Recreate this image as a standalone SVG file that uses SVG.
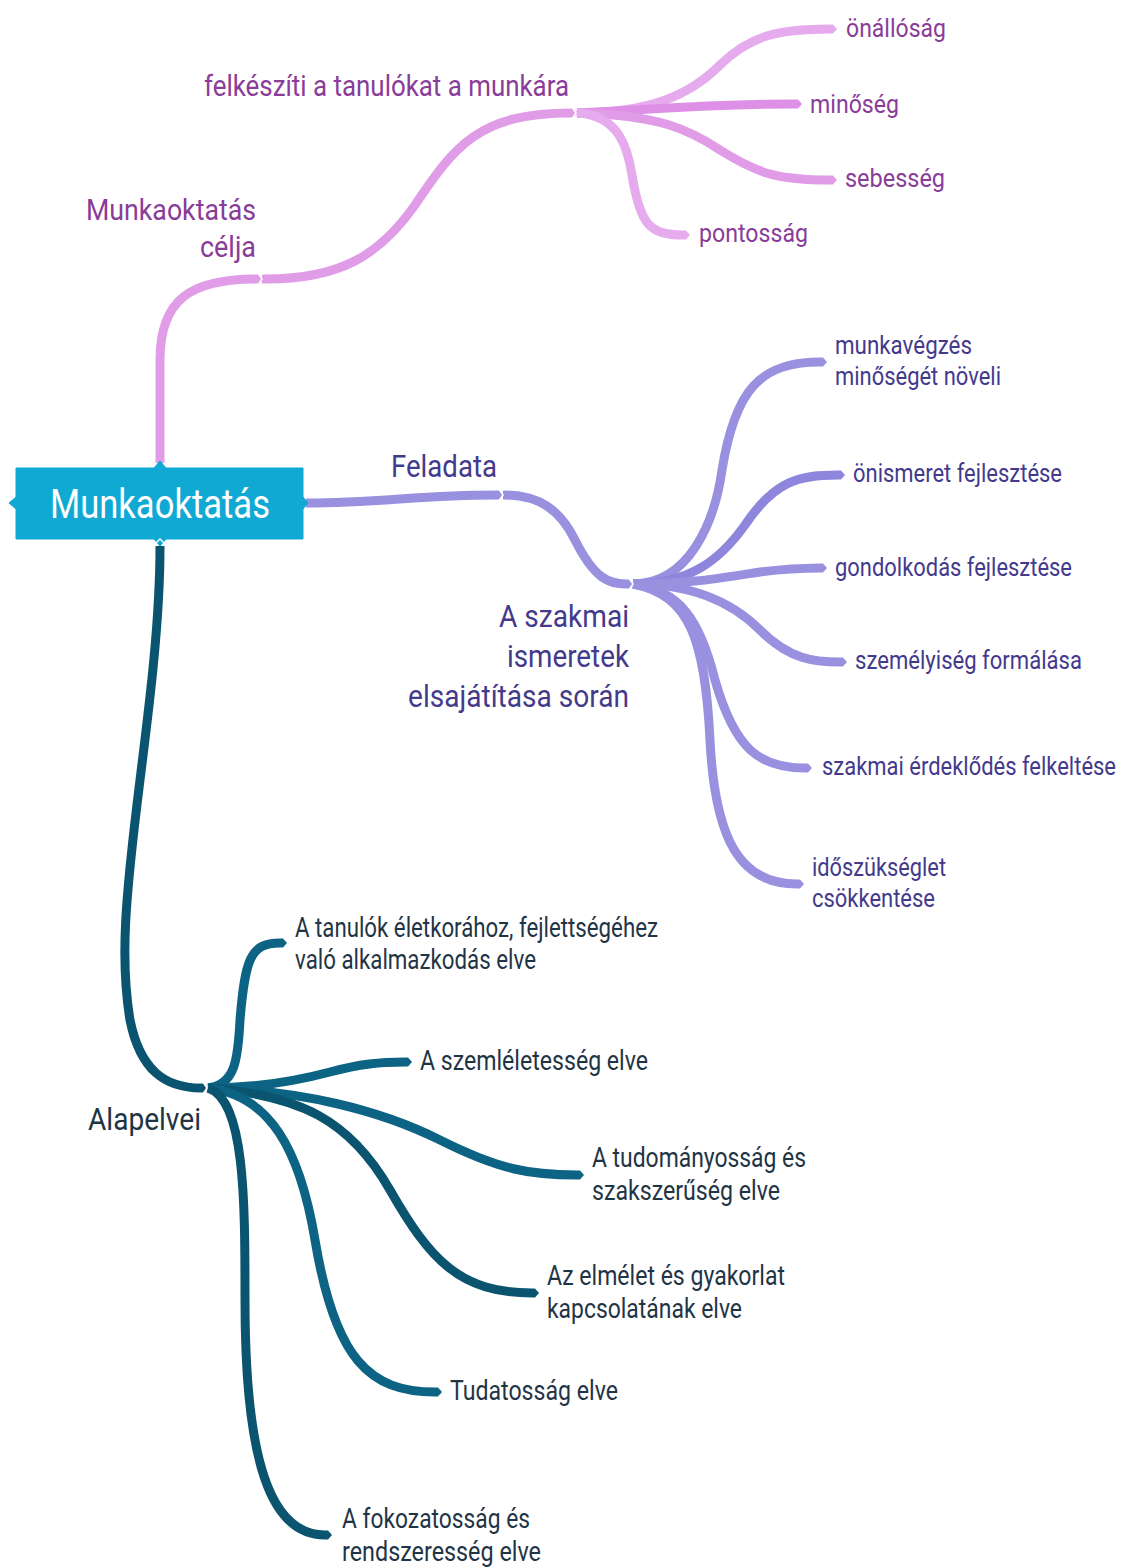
<svg xmlns="http://www.w3.org/2000/svg" width="1123" height="1568" viewBox="0 0 1123 1568">
  <style>
    .t { font-family: Roboto, "Liberation Sans", sans-serif; }
    .lbl-top { fill: #8a3c99; font-size: 30px; }
    .leaf-top { fill: #8a3c99; font-size: 26px; }
    .lbl-mid { fill: #433a8c; font-size: 31px; }
    .leaf-mid { fill: #433a8c; font-size: 25px; }
    .lbl-bot { fill: #1f3445; font-size: 31px; }
    .leaf-bot { fill: #1f3445; font-size: 27px; }
    .br { fill: none; stroke-linecap: butt; stroke-width: 9; }
    .pk { stroke: #e19ce8; }
    .pk2 { stroke: #e6abed; }
    .pk3 { stroke: #de90e6; }
    .vi { stroke: #9a90e0; }
    .vi2 { stroke: #8e85dd; }
    .te { stroke: #0c6383; }
    .te2 { stroke: #0b5470; }
    .notch { fill: none; stroke: #ffffff; stroke-width: 1.6; }
  </style>
  <defs>
    <marker id="tip-pk" markerUnits="userSpaceOnUse" markerWidth="12" markerHeight="12" refX="0" refY="6" orient="auto" viewBox="0 0 12 12">
      <path d="M0,1.5 L3,1.5 L7,6 L3,10.5 L0,10.5 Z" fill="#e19ce8"/>
    </marker>
    <marker id="tip-pk2" markerUnits="userSpaceOnUse" markerWidth="12" markerHeight="12" refX="0" refY="6" orient="auto" viewBox="0 0 12 12">
      <path d="M0,1.5 L3,1.5 L7,6 L3,10.5 L0,10.5 Z" fill="#e6abed"/>
    </marker>
    <marker id="tip-pk3" markerUnits="userSpaceOnUse" markerWidth="12" markerHeight="12" refX="0" refY="6" orient="auto" viewBox="0 0 12 12">
      <path d="M0,1.5 L3,1.5 L7,6 L3,10.5 L0,10.5 Z" fill="#de90e6"/>
    </marker>
    <marker id="tip-vi" markerUnits="userSpaceOnUse" markerWidth="12" markerHeight="12" refX="0" refY="6" orient="auto" viewBox="0 0 12 12">
      <path d="M0,1.5 L3,1.5 L7,6 L3,10.5 L0,10.5 Z" fill="#9a90e0"/>
    </marker>
    <marker id="tip-vi2" markerUnits="userSpaceOnUse" markerWidth="12" markerHeight="12" refX="0" refY="6" orient="auto" viewBox="0 0 12 12">
      <path d="M0,1.5 L3,1.5 L7,6 L3,10.5 L0,10.5 Z" fill="#8e85dd"/>
    </marker>
    <marker id="tip-te" markerUnits="userSpaceOnUse" markerWidth="12" markerHeight="12" refX="0" refY="6" orient="auto" viewBox="0 0 12 12">
      <path d="M0,1.5 L3,1.5 L7,6 L3,10.5 L0,10.5 Z" fill="#0c6383"/>
    </marker>
    <marker id="tip-te2" markerUnits="userSpaceOnUse" markerWidth="12" markerHeight="12" refX="0" refY="6" orient="auto" viewBox="0 0 12 12">
      <path d="M0,1.5 L3,1.5 L7,6 L3,10.5 L0,10.5 Z" fill="#0b5470"/>
    </marker>
  </defs>

  <rect width="1123" height="1568" fill="#ffffff"/>

  <!-- connectors -->
  <g id="connectors">
    <!-- goal branch -->
    <path class="br pk" d="M160,463 L160,360 C160,300 190,279 256,279" marker-end="url(#tip-pk)"/>
    <path class="br pk" d="M262,279 C340,280 380,255 415,205 C455,145 480,113 571,113" marker-end="url(#tip-pk)"/>
    <path class="br pk2" d="M577,113 C650,113 690,95 720,65 C750,35 780,29 830,29" marker-end="url(#tip-pk2)"/>
    <path class="br pk3" d="M577,113 C650,110 700,104 795,104" marker-end="url(#tip-pk3)"/>
    <path class="br pk" d="M577,113 C660,115 690,130 720,150 C760,175 780,180 830,180" marker-end="url(#tip-pk)"/>
    <path class="br pk2" d="M577,113 C620,115 628,150 632,175 C640,225 650,235 683,235" marker-end="url(#tip-pk2)"/>

    <!-- task branch -->
    <path class="br vi" d="M306,503 C380,503 420,495 496,495" marker-end="url(#tip-vi)"/>
    <path class="br vi" d="M503,495 C540,495 560,510 575,540 C595,580 610,584 626,584" marker-end="url(#tip-vi)"/>
    <path class="br vi" d="M633,584 C690,584 715,520 722,470 C735,390 760,362 820,362" marker-end="url(#tip-vi)"/>
    <path class="br vi2" d="M633,584 C690,584 720,560 745,525 C775,480 800,475 838,475" marker-end="url(#tip-vi2)"/>
    <path class="br vi" d="M633,584 C690,584 720,578 760,572 C790,568 805,568 820,568" marker-end="url(#tip-vi)"/>
    <path class="br vi" d="M633,584 C690,584 730,600 760,630 C790,660 815,662 840,662" marker-end="url(#tip-vi)"/>
    <path class="br vi" d="M633,584 C680,590 700,620 715,680 C735,750 760,768 805,768" marker-end="url(#tip-vi)"/>
    <path class="br vi" d="M633,584 C690,595 705,640 710,740 C715,840 740,884 797,884" marker-end="url(#tip-vi)"/>

    <!-- principles branch -->
    <path class="br te2" d="M160,546 C160,620 150,700 140,780 C125,900 120,960 130,1020 C140,1070 165,1088 201,1088" marker-end="url(#tip-te2)"/>
    <path class="br te" d="M208,1088 C235,1085 238,1060 240,1020 C245,960 250,943 280,943" marker-end="url(#tip-te)"/>
    <path class="br te" d="M208,1088 C260,1088 300,1080 330,1072 C360,1064 380,1062 405,1062" marker-end="url(#tip-te)"/>
    <path class="br te" d="M208,1088 C300,1090 380,1110 440,1140 C500,1170 530,1175 577,1175" marker-end="url(#tip-te)"/>
    <path class="br te2" d="M208,1088 C300,1095 350,1120 390,1190 C430,1260 460,1293 532,1293" marker-end="url(#tip-te2)"/>
    <path class="br te" d="M208,1088 C270,1095 300,1150 315,1240 C335,1360 370,1392 435,1392" marker-end="url(#tip-te)"/>
    <path class="br te2" d="M208,1088 C245,1100 245,1200 245,1300 C245,1460 270,1535 325,1535" marker-end="url(#tip-te2)"/>

    <!-- junction notches -->
    <polyline class="notch" points="258,273 262,279 258,285"/>
    <polyline class="notch" points="572,107 576,113 572,119"/>
    <polyline class="notch" points="499,489 503,495 499,501"/>
    <polyline class="notch" points="629,578 633,584 629,590"/>
    <polyline class="notch" points="203,1082 207,1088 203,1094"/>
  </g>

  <!-- central topic -->
  <g id="node-center">
    <path d="M16,468 L154,468 L160,461 L166,468 L303,468 L303,497 L308,503 L303,509 L303,539 L166,539 L160,546 L154,539 L16,539 L16,509 L9,503 L16,497 Z" fill="#10a9d4" stroke="#10a9d4" stroke-width="1" stroke-linejoin="round"/>
    <polyline points="155,544 160,539 165,544" fill="none" stroke="#ffffff" stroke-width="1.4"/>
    <text class="t" x="160" y="518" font-size="41" fill="#ffffff" text-anchor="middle" textLength="220" lengthAdjust="spacingAndGlyphs">Munkaoktatás</text>
  </g>

  <!-- goal branch nodes -->
  <g id="node-celja">
    <text class="t lbl-top" x="86" y="220" textLength="170" lengthAdjust="spacingAndGlyphs">Munkaoktatás</text>
    <text class="t lbl-top" x="200" y="257" textLength="56" lengthAdjust="spacingAndGlyphs">célja</text>
  </g>
  <g id="node-felkesziti">
    <text class="t lbl-top" font-size="28" x="204" y="96" textLength="365" lengthAdjust="spacingAndGlyphs">felkészíti a tanulókat a munkára</text>
  </g>
  <g id="node-onallosag">
    <text class="t leaf-top" x="846" y="37" textLength="100" lengthAdjust="spacingAndGlyphs">önállóság</text>
  </g>
  <g id="node-minoseg">
    <text class="t leaf-top" x="810" y="113" textLength="89" lengthAdjust="spacingAndGlyphs">minőség</text>
  </g>
  <g id="node-sebesseg">
    <text class="t leaf-top" x="845" y="187" textLength="100" lengthAdjust="spacingAndGlyphs">sebesség</text>
  </g>
  <g id="node-pontossag">
    <text class="t leaf-top" x="699" y="242" textLength="109" lengthAdjust="spacingAndGlyphs">pontosság</text>
  </g>

  <!-- task branch nodes -->
  <g id="node-feladata">
    <text class="t lbl-mid" x="391" y="477" textLength="106" lengthAdjust="spacingAndGlyphs">Feladata</text>
  </g>
  <g id="node-szakmai-ismeretek">
    <text class="t lbl-mid" x="499" y="627" textLength="130" lengthAdjust="spacingAndGlyphs">A szakmai</text>
    <text class="t lbl-mid" x="507" y="667" textLength="122" lengthAdjust="spacingAndGlyphs">ismeretek</text>
    <text class="t lbl-mid" x="408" y="707" textLength="221" lengthAdjust="spacingAndGlyphs">elsajátítása során</text>
  </g>
  <g id="node-munkavegzes">
    <text class="t leaf-mid" x="835" y="354" textLength="137" lengthAdjust="spacingAndGlyphs">munkavégzés</text>
    <text class="t leaf-mid" x="835" y="385" textLength="166" lengthAdjust="spacingAndGlyphs">minőségét növeli</text>
  </g>
  <g id="node-onismeret">
    <text class="t leaf-mid" x="853" y="482" textLength="209" lengthAdjust="spacingAndGlyphs">önismeret fejlesztése</text>
  </g>
  <g id="node-gondolkodas">
    <text class="t leaf-mid" x="835" y="576" textLength="237" lengthAdjust="spacingAndGlyphs">gondolkodás fejlesztése</text>
  </g>
  <g id="node-szemelyiseg">
    <text class="t leaf-mid" x="855" y="669" textLength="227" lengthAdjust="spacingAndGlyphs">személyiség formálása</text>
  </g>
  <g id="node-erdeklodes">
    <text class="t leaf-mid" x="822" y="775" textLength="294" lengthAdjust="spacingAndGlyphs">szakmai érdeklődés felkeltése</text>
  </g>
  <g id="node-idoszukseglet">
    <text class="t leaf-mid" x="812" y="876" textLength="134" lengthAdjust="spacingAndGlyphs">időszükséglet</text>
    <text class="t leaf-mid" x="812" y="907" textLength="123" lengthAdjust="spacingAndGlyphs">csökkentése</text>
  </g>

  <!-- principles branch nodes -->
  <g id="node-alapelvei">
    <text class="t lbl-bot" x="88" y="1130" textLength="113" lengthAdjust="spacingAndGlyphs">Alapelvei</text>
  </g>
  <g id="node-eletkor">
    <text class="t leaf-bot" x="295" y="937" textLength="363" lengthAdjust="spacingAndGlyphs">A tanulók életkorához, fejlettségéhez</text>
    <text class="t leaf-bot" x="295" y="969" textLength="241" lengthAdjust="spacingAndGlyphs">való alkalmazkodás elve</text>
  </g>
  <g id="node-szemleletesseg">
    <text class="t leaf-bot" x="420" y="1070" textLength="228" lengthAdjust="spacingAndGlyphs">A szemléletesség elve</text>
  </g>
  <g id="node-tudomanyossag">
    <text class="t leaf-bot" x="592" y="1167" textLength="214" lengthAdjust="spacingAndGlyphs">A tudományosság és</text>
    <text class="t leaf-bot" x="592" y="1200" textLength="188" lengthAdjust="spacingAndGlyphs">szakszerűség elve</text>
  </g>
  <g id="node-elmelet">
    <text class="t leaf-bot" x="547" y="1285" textLength="238" lengthAdjust="spacingAndGlyphs">Az elmélet és gyakorlat</text>
    <text class="t leaf-bot" x="547" y="1318" textLength="195" lengthAdjust="spacingAndGlyphs">kapcsolatának elve</text>
  </g>
  <g id="node-tudatossag">
    <text class="t leaf-bot" x="450" y="1400" textLength="168" lengthAdjust="spacingAndGlyphs">Tudatosság elve</text>
  </g>
  <g id="node-fokozatossag">
    <text class="t leaf-bot" x="342" y="1528" textLength="188" lengthAdjust="spacingAndGlyphs">A fokozatosság és</text>
    <text class="t leaf-bot" x="342" y="1561" textLength="199" lengthAdjust="spacingAndGlyphs">rendszeresség elve</text>
  </g>
</svg>
